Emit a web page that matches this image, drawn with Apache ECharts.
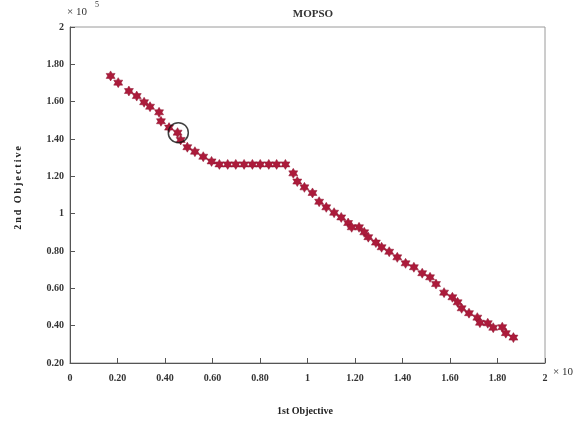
<!DOCTYPE html>
<html><head><meta charset="utf-8">
<script src="https://cdn.jsdelivr.net/npm/echarts@6/dist/echarts.min.js"></script>
<style>html,body{margin:0;padding:0;background:#fff}#c{width:576px;height:423px}</style>
</head><body><div id="c"></div>
<script>
// Pareto front points (1st objective ×10^4, 2nd objective ×10^5)
const obj1 = [0.171,0.203,0.248,0.281,0.312,0.337,0.375,0.383,0.417,0.453,0.466,0.494,0.526,0.561,0.596,
  0.629,0.664,0.698,0.733,0.768,0.801,0.837,0.870,0.907,
  0.940,0.957,0.987,1.021,1.049,1.079,1.112,1.142,1.171,1.186,1.217,1.239,1.256,1.288,1.312,1.344,1.378,1.413,1.448,1.483,1.516,1.541,1.575,1.610,1.632,1.649,1.680,1.715,1.726,1.759,1.782,1.820,1.835,1.867];
const obj2 = [1.738,1.702,1.657,1.630,1.597,1.573,1.543,1.495,1.461,1.434,1.395,1.356,1.332,1.305,1.280,
  1.264,1.264,1.264,1.264,1.264,1.264,1.264,1.264,1.264,
  1.216,1.172,1.141,1.111,1.064,1.034,1.005,0.980,0.950,0.927,0.927,0.900,0.874,0.845,0.820,0.796,0.766,0.734,0.713,0.681,0.659,0.623,0.577,0.552,0.525,0.493,0.467,0.443,0.416,0.413,0.389,0.392,0.360,0.336];
const highlighted = [[0.456, 1.434]];
const xTicks = [0,0.2,0.4,0.6,0.8,1,1.2,1.4,1.6,1.8,2];
const yTicks = [0.2,0.4,0.6,0.8,1,1.2,1.4,1.6,1.8,2];
const titleText = 'MOPSO';
const xName = '1st Objective';
const yName = '2nd Objective';

const fmt = v => Number.isInteger(v) ? String(v) : v.toFixed(2);
const font = 'Liberation Serif';
const hexagram = 'path://M0,-10 L2.887,-5 L8.66,-5 L5.774,0 L8.66,5 L2.887,5 L0,10 L-2.887,5 L-8.66,5 L-5.774,0 L-8.66,-5 L-2.887,-5 Z';

const chart = echarts.init(document.getElementById('c'), null, {renderer:'canvas'});
chart.setOption({
  animation: false,
  backgroundColor: '#fff',
  title: {text: titleText, left: 308, top: 4, textAlign: 'center',
    textStyle: {fontFamily: font, fontWeight: 'bold', fontSize: 11, color: '#333'}},
  grid: {left: 70, right: 31, top: 27, bottom: 60, show: true, borderColor: '#9a9a9a', borderWidth: 1,
    outerBoundsMode: 'none', containLabel: false},
  xAxis: {type: 'value', min: 0, max: 2, interval: 0.2,
    axisLine: {show: true, lineStyle: {color: '#555', width: 1}},
    axisTick: {show: true, inside: true, length: 5, lineStyle: {color: '#555'}},
    splitLine: {show: false},
    axisLabel: {margin: 10, fontFamily: font, fontWeight: 'bold', fontSize: 10, color: '#333',
      formatter: v => xTicks.some(t => Math.abs(t - v) < 1e-9) ? fmt(v) : ''}},
  yAxis: {type: 'value', min: 0.2, max: 2, interval: 0.2,
    axisLine: {show: true, lineStyle: {color: '#555', width: 1}},
    axisTick: {show: true, inside: true, length: 5, lineStyle: {color: '#555'}},
    splitLine: {show: false},
    axisLabel: {margin: 6, fontFamily: font, fontWeight: 'bold', fontSize: 10, color: '#333',
      formatter: v => yTicks.some(t => Math.abs(t - v) < 1e-9) ? fmt(v) : ''}},
  graphic: [
    {type: 'text', left: 67, top: 7, style: {text: '× 10', font: '11px "Liberation Serif"', fill: '#333'}},
    {type: 'text', left: 95, top: 1, style: {text: '5', font: '8px "Liberation Serif"', fill: '#333'}},
    {type: 'text', left: 553, top: 367, style: {text: '× 10', font: '11px "Liberation Serif"', fill: '#333'}},
    {type: 'text', x: 305, y: 411, style: {text: xName, font: 'bold 10px "Liberation Serif"', fill: '#222',
      align: 'center', verticalAlign: 'middle'}},
    {type: 'text', x: 18, y: 188, rotation: Math.PI/2, style: {text: yName.split('').join('\u2009'),
      font: 'bold 10px "Liberation Serif"', fill: '#222', align: 'center', verticalAlign: 'middle'}}
  ],
  series: [
    {type: 'scatter', data: obj1.map((x, i) => [x, obj2[i]]), symbol: hexagram, symbolSize: [9, 10],
      itemStyle: {color: '#ac1b3b', borderColor: '#8e1530', borderWidth: 0.5, opacity: 1}},
    {type: 'scatter', data: highlighted, symbol: 'circle', symbolSize: 20,
      itemStyle: {color: 'rgba(0,0,0,0)', borderColor: '#111', borderWidth: 1.5}, z: 3}
  ]
});
</script></body></html>
